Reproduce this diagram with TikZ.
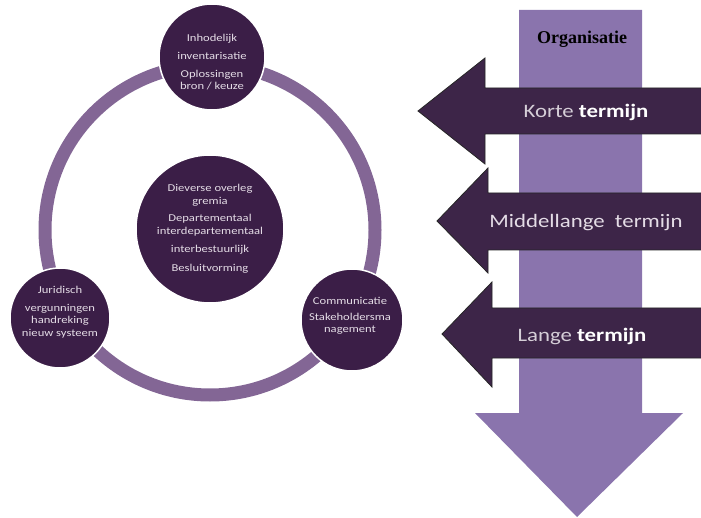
\documentclass[tikz,border=0pt]{standalone}
\usepackage{fontspec}
\newfontfamily\circfont[FakeStretch=1.2]{Carlito}
\newfontfamily\arrfont[FakeStretch=1.2]{Carlito}
\newfontfamily\orgfont{Liberation Serif}
\definecolor{bubfill}{HTML}{3B1E47}
\definecolor{ringcol}{HTML}{836695}
\definecolor{lav}{HTML}{8A74AD}
\definecolor{darkarr}{HTML}{3D2548}
\definecolor{ctxt}{HTML}{E4DCE6}
\tikzset{
  bub/.style={circle, fill=bubfill, draw=white, line width=1.5pt, inner sep=0pt},
  ctext/.style={font=\circfont\fontsize{10.5}{12.5}\selectfont, text=ctxt, align=center, inner sep=0pt},
  atext/.style={font=\arrfont\fontsize{19}{22}\selectfont, text=ctxt, inner sep=0pt},
  darrow/.style={fill=darkarr, draw=black!85, line width=0.8pt},
}
\begin{document}
\begin{tikzpicture}[x=1pt,y=-1pt]
\useasboundingbox (0,0) rectangle (701,518);
% ---- left: ring with circles
\coordinate (rc) at (210,230);
\draw[ringcol, line width=13pt] (rc) circle[radius=165];
\node[bub, minimum size=74pt*2] (mid) at (210,229) {};
\node[bub, minimum size=106pt] (top) at (212,57) {};
\node[bub, minimum size=100pt] (bl) at (60,318) {};
\node[bub, minimum size=102pt] (br) at (352,320) {};
\node[ctext] (ttop) at (212,62) {Inhodelijk\\[6pt]inventarisatie\\[5pt]Oplossingen\\bron / keuze};
\node[ctext] (tmid) at (210,229) {Dieverse overleg\\gremia\\[5pt]Departementaal\\interdepartementaal\\[6pt]interbestuurlijk\\[6pt]Besluitvorming};
\node[ctext] (tbl) at (60,312) {Juridisch\\[5pt]vergunningen\\handreking\\nieuw systeem};
\node[ctext] (tbr) at (350,316) {Communicatie\\[3pt]Stakeholdersma\\nagement};
% ---- right: big downward arrow
\fill[lav] (519,10) -- (642,10) -- (642,413) -- (683,413) -- (577,517) -- (475,413) -- (519,413) -- cycle;
\node[font=\orgfont\bfseries\fontsize{18}{20}\selectfont, inner sep=0pt] (org) at (582,39) {Organisatie};
% ---- left-pointing arrows
\draw[darrow] (703,88) -- (485,88) -- (485,58) -- (418,111) -- (485,164) -- (485,134) -- (703,134);
\draw[darrow] (703,193) -- (488,193) -- (488,168) -- (437,221) -- (488,273) -- (488,250) -- (703,250);
\draw[darrow] (703,308) -- (492,308) -- (492,282) -- (442,334) -- (492,387) -- (492,358) -- (703,358);
\node[atext] (k) at (586,112) {{\color{ctxt!85!gray}Korte} {\color{white}\bfseries termijn}};
\node[atext] (m) at (586,223) {Middellange\ \ termijn};
\node[atext] (l) at (582,336) {{\color{ctxt!85!gray}Lange} {\color{white}\bfseries termijn}};
\end{tikzpicture}
\end{document}
